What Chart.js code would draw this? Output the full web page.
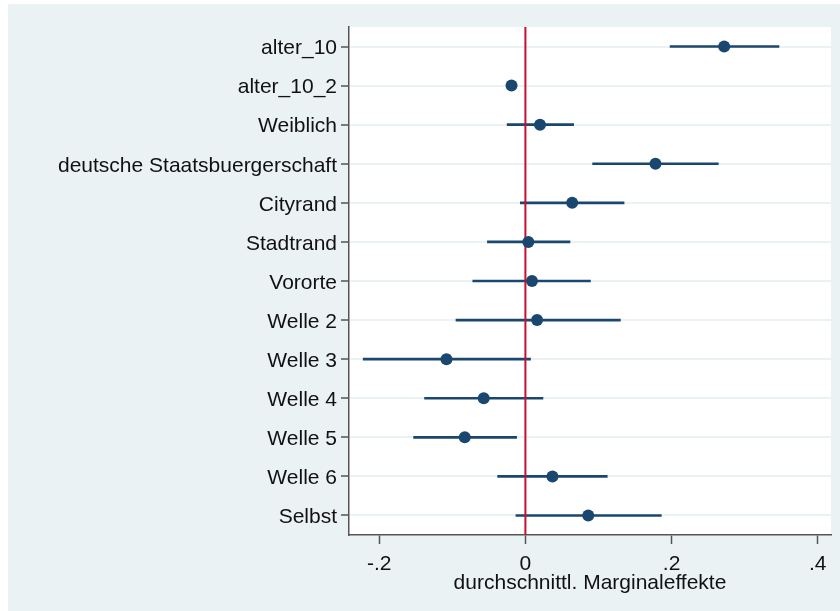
<!DOCTYPE html>
<html>
<head>
<meta charset="utf-8">
<script src="https://cdn.jsdelivr.net/npm/chart.js@4/dist/chart.umd.min.js"></script>
<style>
  html, body { margin: 0; padding: 0; background: #fff; }
  canvas { display: block; }
</style>
</head>
<body>
<canvas id="chart" width="840" height="611"></canvas>
<script>
// ==============================
// DATA
// ==============================
const categories = [
  "alter_10", "alter_10_2", "Weiblich", "deutsche Staatsbuergerschaft",
  "Cityrand", "Stadtrand", "Vororte", "Welle 2", "Welle 3",
  "Welle 4", "Welle 5", "Welle 6", "Selbst"
];
const estimates = [0.272, -0.019, 0.020, 0.178, 0.064, 0.004, 0.009, 0.016, -0.108, -0.057, -0.083, 0.037, 0.086];
const ciLow     = [0.198, -0.023, -0.025, 0.092, -0.007, -0.052, -0.072, -0.095, -0.222, -0.138, -0.153, -0.038, -0.013];
const ciHigh    = [0.347, -0.015, 0.066, 0.264, 0.135, 0.061, 0.089, 0.130, 0.007, 0.024, -0.012, 0.112, 0.186];
const xTicks = [-0.2, 0, 0.2, 0.4];
const xTickLabels = ["-.2", "0", ".2", ".4"];
const xTitle = "durchschnittl. Marginaleffekte";

const NAVY = "#1a476f";
const RED = "#c8102e";
const BG = "#eaf2f3";
const AXIS = "#555";

// ==============================
// BACKGROUND + ZERO LINE
// ==============================
const backdrop = {
  id: "backdrop",
  beforeDraw(chart) {
    const { ctx, chartArea: a } = chart;
    ctx.save();
    ctx.fillStyle = "#fff";
    ctx.fillRect(0, 0, chart.width, chart.height);
    ctx.fillStyle = BG;
    ctx.fillRect(8, 4, chart.width - 8, chart.height - 4);
    ctx.fillStyle = "#fff";
    ctx.fillRect(a.left, a.top, a.right - a.left, a.bottom - a.top);
    ctx.restore();
  },
  afterDatasetDraw(chart, args) {
    if (args.index !== 0) return; // after the CI bars, before the dots
    const { ctx, chartArea: a } = chart;
    const x = chart.scales.x.getPixelForValue(0);
    ctx.save();
    ctx.strokeStyle = RED;
    ctx.lineWidth = 2;
    ctx.beginPath();
    ctx.moveTo(x, a.top);
    ctx.lineTo(x, a.bottom);
    ctx.stroke();
    ctx.restore();
  }
};

// ==============================
// CHART
// ==============================
const font = { family: "'Liberation Sans', Arial, sans-serif", size: 21 };

new Chart(document.getElementById("chart"), {
  data: {
    labels: categories,
    datasets: [
      {
        type: "bar",
        data: categories.map((c, i) => [ciLow[i], ciHigh[i]]),
        backgroundColor: NAVY,
        borderWidth: 0,
        barThickness: 2,
        order: 2
      },
      {
        type: "line",
        data: estimates,
        showLine: false,
        pointRadius: 6,
        pointBackgroundColor: NAVY,
        pointBorderWidth: 0,
        order: 1
      }
    ]
  },
  options: {
    indexAxis: "y",
    responsive: false,
    animation: false,
    layout: { padding: { top: 27, right: 9, left: 0, bottom: 0 } },
    plugins: { legend: { display: false }, tooltip: { enabled: false } },
    scales: {
      x: {
        type: "linear",
        min: -0.2414,
        max: 0.4182,
        afterBuildTicks(scale) {
          scale.ticks = xTicks.map(v => ({ value: v }));
        },
        afterFit(scale) { scale.height = 76; },
        ticks: {
          color: "#111",
          font: font,
          padding: 8,
          maxRotation: 0,
          callback(v) {
            const i = xTicks.indexOf(v);
            return i >= 0 ? xTickLabels[i] : "";
          }
        },
        grid: { drawOnChartArea: false, tickLength: 9, tickColor: AXIS, tickWidth: 1.5 },
        border: { display: true, color: AXIS, width: 1.5 },
        title: { display: true, text: xTitle, color: "#111", font: font, padding: { top: 0, bottom: 15 } }
      },
      y: {
        type: "category",
        offset: true,
        afterFit(scale) { scale.width = 349; },
        ticks: { color: "#111", font: font, padding: 4, labelOffset: 2 },
        grid: { offset: false, color: BG, lineWidth: 2, tickLength: 8, tickColor: AXIS, tickWidth: 1.5 },
        border: { display: true, color: AXIS, width: 1.5 }
      }
    }
  },
  plugins: [backdrop]
});
</script>
</body>
</html>
